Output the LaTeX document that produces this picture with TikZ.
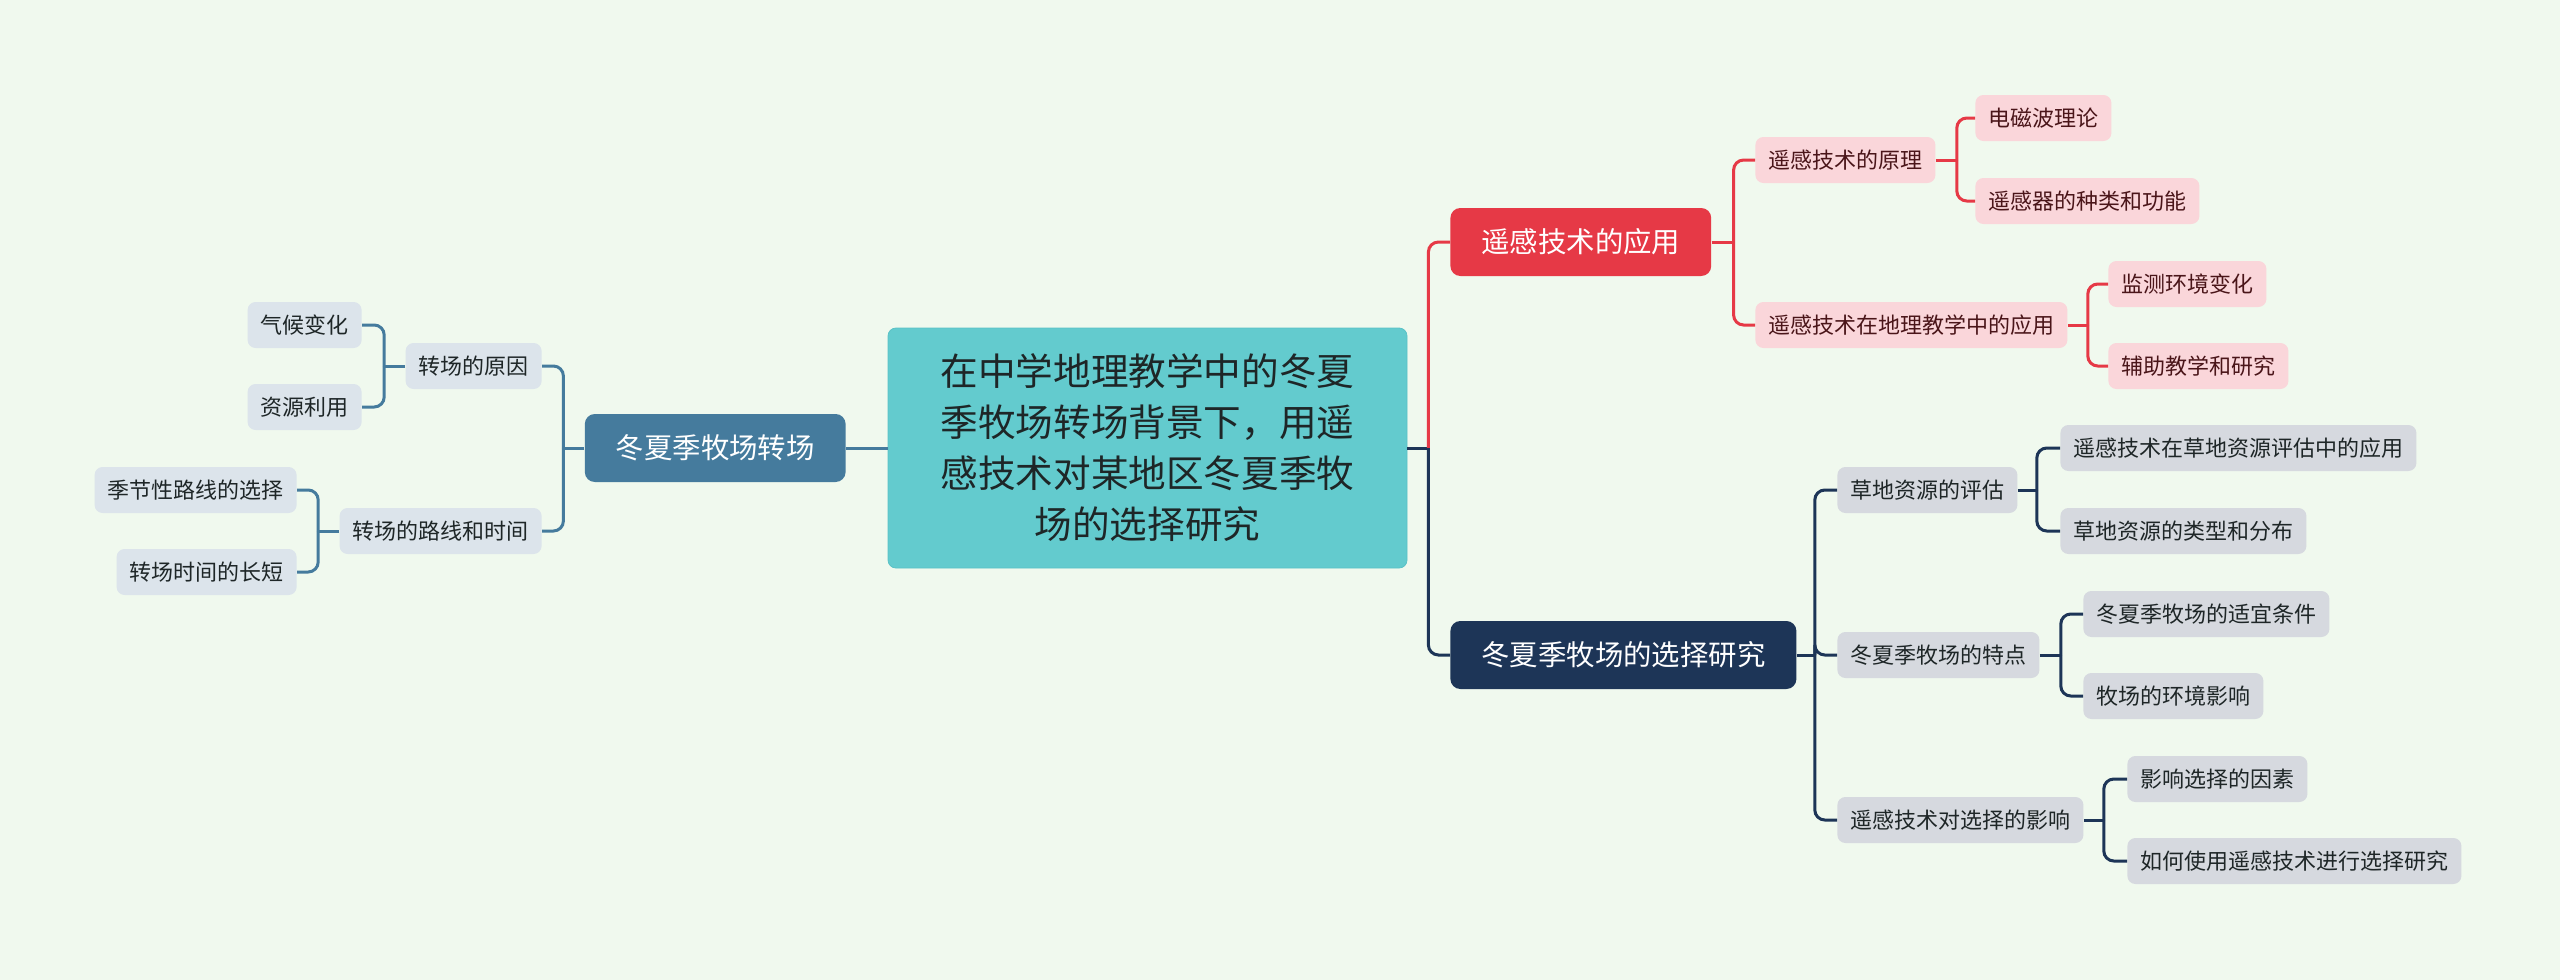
\documentclass[tikz,border=0pt]{standalone}
\usepackage{fontspec}
\setmainfont{Noto Sans CJK SC}
\usetikzlibrary{positioning,calc}
\definecolor{bgmint}{HTML}{F0F9EE}
\definecolor{rootfill}{HTML}{63CBCE}
\definecolor{rootline}{HTML}{5AC2C6}
\definecolor{steel}{HTML}{457B9D}
\definecolor{steelleaf}{HTML}{DCE4EB}
\definecolor{alarm}{HTML}{E63946}
\definecolor{alarmleaf}{HTML}{FAD6DA}
\definecolor{alarmink}{HTML}{4A1519}
\definecolor{navy}{HTML}{1D3557}
\definecolor{navyleaf}{HTML}{D6D9DF}
\definecolor{inkdark}{HTML}{1E2627}
\tikzset{
  root/.style={draw=rootline, fill=rootfill, rounded corners=4pt, align=center,
               minimum width=259.5pt, minimum height=120pt, text=inkdark,
               font=\fontsize{18.8}{25.5}\selectfont},
  topic/.style={rounded corners=5pt, minimum height=34pt, inner xsep=15.5pt,
               inner ysep=0pt, text=white, font=\fontsize{14.2}{17}\selectfont},
  leaf/.style={rounded corners=4pt, minimum height=23pt, inner xsep=6.5pt,
               inner ysep=0pt, font=\fontsize{11}{13}\selectfont},
  sleaf/.style={leaf, fill=steelleaf, text=inkdark},
  rleaf/.style={leaf, fill=alarmleaf, text=alarmink},
  nleaf/.style={leaf, fill=navyleaf, text=inkdark},
  link/.style={line width=1.5pt, rounded corners=5pt},
}

\begin{document}
\begin{tikzpicture}[x=0.5pt, y=-0.5pt]
  \useasboundingbox[fill=bgmint] (0,0) rectangle (2560,980);

  \node[root] (ctr) at (1147.5,448)
    {在中学地理教学中的冬夏\\季牧场转场背景下，用遥\\感技术对某地区冬夏季牧\\场的选择研究};

  % left branch
  \node[topic, fill=steel, anchor=east] (move) at (846,448) {冬夏季牧场转场};
  \node[sleaf, anchor=east] (why) at (542,366) {转场的原因};
  \node[sleaf, anchor=east] (route) at (542,531) {转场的路线和时间};
  \node[sleaf, anchor=east] (climate) at (362,325) {气候变化};
  \node[sleaf, anchor=east] (resource) at (362,407) {资源利用};
  \node[sleaf, anchor=east] (season) at (297,490) {季节性路线的选择};
  \node[sleaf, anchor=east] (length) at (297,572) {转场时间的长短};

  % right branch, remote sensing
  \node[topic, fill=alarm, anchor=west] (app) at (1450,242) {遥感技术的应用};
  \node[rleaf, anchor=west] (principle) at (1755,160) {遥感技术的原理};
  \node[rleaf, anchor=west] (teach) at (1755,325) {遥感技术在地理教学中的应用};
  \node[rleaf, anchor=west] (wave) at (1975,118) {电磁波理论};
  \node[rleaf, anchor=west] (sensor) at (1975,201) {遥感器的种类和功能};
  \node[rleaf, anchor=west] (monitor) at (2108,284) {监测环境变化};
  \node[rleaf, anchor=west] (assist) at (2108,366) {辅助教学和研究};

  % right branch, pasture choice
  \node[topic, fill=navy, anchor=west] (choice) at (1450,655) {冬夏季牧场的选择研究};
  \node[nleaf, anchor=west] (grass) at (1837,490) {草地资源的评估};
  \node[nleaf, anchor=west] (trait) at (1837,655) {冬夏季牧场的特点};
  \node[nleaf, anchor=west] (effect) at (1837,820) {遥感技术对选择的影响};
  \node[nleaf, anchor=west] (gassess) at (2060,448) {遥感技术在草地资源评估中的应用};
  \node[nleaf, anchor=west] (gtype) at (2060,531) {草地资源的类型和分布};
  \node[nleaf, anchor=west] (suit) at (2083,614) {冬夏季牧场的适宜条件};
  \node[nleaf, anchor=west] (envir) at (2083,696) {牧场的环境影响};
  \node[nleaf, anchor=west] (factor) at (2127,779) {影响选择的因素};
  \node[nleaf, anchor=west] (howto) at (2127,861) {如何使用遥感技术进行选择研究};

  % connectors
  \draw[link, steel] (ctr.west) -- (move.east);
  \draw[link, steel] (move.west) -- ++(-21,0) coordinate (jm);
  \draw[link, steel] (jm) |- (why.east);
  \draw[link, steel] (jm) |- (route.east);
  \draw[link, steel] (why.west) -- ++(-21,0) coordinate (jw);
  \draw[link, steel] (jw) |- (climate.east);
  \draw[link, steel] (jw) |- (resource.east);
  \draw[link, steel] (route.west) -- ++(-21,0) coordinate (jr);
  \draw[link, steel] (jr) |- (season.east);
  \draw[link, steel] (jr) |- (length.east);

  \draw[link, navy] (ctr.east) -- ++(21,0) coordinate (jc);
  \draw[link, alarm] (jc) |- (app.west);
  \draw[link, navy] (jc) |- (choice.west);

  \draw[link, alarm] (app.east) -- ++(22,0) coordinate (ja);
  \draw[link, alarm] (ja) |- (principle.west);
  \draw[link, alarm] (ja) |- (teach.west);
  \draw[link, alarm] (principle.east) -- ++(21,0) coordinate (jp);
  \draw[link, alarm] (jp) |- (wave.west);
  \draw[link, alarm] (jp) |- (sensor.west);
  \draw[link, alarm] (teach.east) -- ++(20,0) coordinate (jt);
  \draw[link, alarm] (jt) |- (monitor.west);
  \draw[link, alarm] (jt) |- (assist.west);

  \draw[link, navy] (choice.east) -- ++(18,0) coordinate (jn);
  \draw[link, navy] (jn) |- (grass.west);
  \draw[link, navy] (jn) |- (trait.west);
  \draw[link, navy] (jn) |- (effect.west);
  \draw[link, navy] (grass.east) -- ++(19,0) coordinate (jg);
  \draw[link, navy] (jg) |- (gassess.west);
  \draw[link, navy] (jg) |- (gtype.west);
  \draw[link, navy] (trait.east) -- ++(21,0) coordinate (jf);
  \draw[link, navy] (jf) |- (suit.west);
  \draw[link, navy] (jf) |- (envir.west);
  \draw[link, navy] (effect.east) -- ++(20,0) coordinate (je);
  \draw[link, navy] (je) |- (factor.west);
  \draw[link, navy] (je) |- (howto.west);
\end{tikzpicture}
\end{document}
